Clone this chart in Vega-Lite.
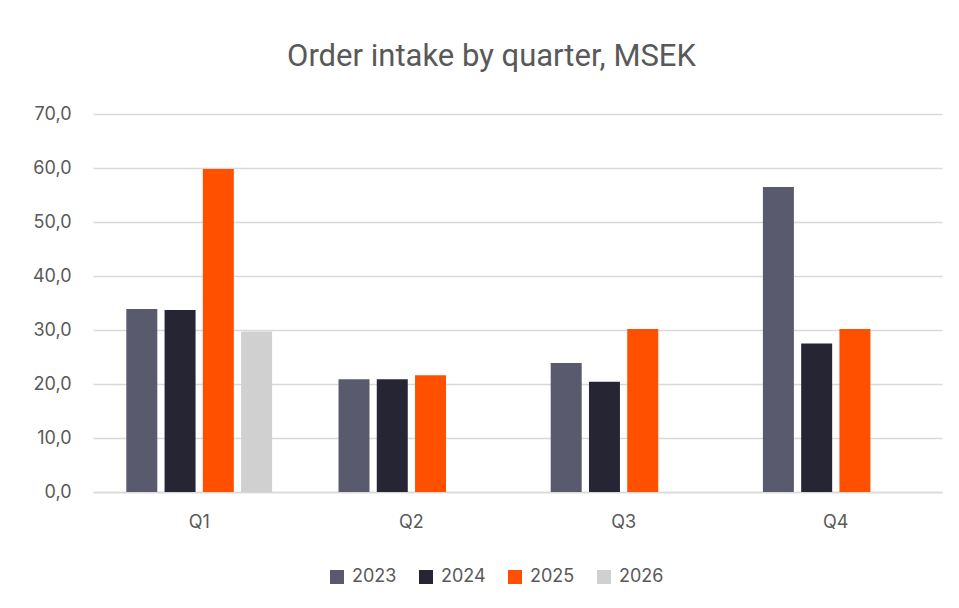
{
  "$schema": "https://vega.github.io/schema/vega-lite/v6.json",
  "autosize": "none",
  "width": 849,
  "height": 378,
  "padding": {"left": 93, "top": 114, "right": 17, "bottom": 116},
  "background": "white",
  "title": {
    "text": "Order intake by quarter, MSEK",
    "font": "Roboto",
    "fontSize": 31,
    "fontWeight": "normal",
    "color": "#595959",
    "anchor": "middle",
    "baseline": "alphabetic",
    "offset": 8,
    "dx": -26
  },
  "data": {
    "values": [
      {"quarter": "Q1", "year": "2023", "value": 33.9},
      {"quarter": "Q1", "year": "2024", "value": 33.7},
      {"quarter": "Q1", "year": "2025", "value": 59.8},
      {"quarter": "Q1", "year": "2026", "value": 29.7},
      {"quarter": "Q2", "year": "2023", "value": 20.9},
      {"quarter": "Q2", "year": "2024", "value": 20.9},
      {"quarter": "Q2", "year": "2025", "value": 21.6},
      {"quarter": "Q3", "year": "2023", "value": 23.9},
      {"quarter": "Q3", "year": "2024", "value": 20.4},
      {"quarter": "Q3", "year": "2025", "value": 30.2},
      {"quarter": "Q4", "year": "2023", "value": 56.5},
      {"quarter": "Q4", "year": "2024", "value": 27.5},
      {"quarter": "Q4", "year": "2025", "value": 30.2}
    ]
  },
  "mark": {"type": "bar"},
  "encoding": {
    "x": {
      "field": "quarter",
      "type": "nominal",
      "scale": {"paddingInner": 0.313, "paddingOuter": 0.157},
      "axis": {
        "title": null,
        "labelAngle": 0,
        "labelFont": "Inter",
        "labelFontSize": 18,
        "labelColor": "#595959",
        "labelPadding": 21,
        "ticks": false,
        "tickSize": 0,
        "domain": true,
        "domainColor": "#d9d9d9",
        "domainWidth": 1.5,
        "grid": false
      }
    },
    "xOffset": {
      "field": "year",
      "type": "nominal",
      "scale": {"domain": ["2023", "2024", "2025", "2026"], "paddingInner": 0.19, "paddingOuter": 0}
    },
    "y": {
      "field": "value",
      "type": "quantitative",
      "scale": {"domain": [0, 70], "nice": false},
      "axis": {
        "title": null,
        "values": [0, 10, 20, 30, 40, 50, 60, 70],
        "labelExpr": "replace(format(datum.value, '.1f'), '.', ',')",
        "labelFont": "Inter",
        "labelFontSize": 18,
        "labelColor": "#595959",
        "labelPadding": 22,
        "ticks": false,
        "tickSize": 0,
        "domain": false,
        "grid": true,
        "gridColor": "#d9d9d9",
        "gridWidth": 1.5
      }
    },
    "color": {
      "field": "year",
      "type": "nominal",
      "scale": {
        "domain": ["2023", "2024", "2025", "2026"],
        "range": ["#5a5a6e", "#262533", "#ff5000", "#d0d0d0"]
      },
      "legend": {
        "title": null,
        "orient": "none",
        "direction": "horizontal",
        "legendX": 235,
        "legendY": 454,
        "symbolType": "square",
        "symbolSize": 196,
        "symbolStrokeWidth": 0,
        "labelFont": "Inter",
        "labelFontSize": 18,
        "labelColor": "#595959",
        "labelOffset": 6,
        "columnPadding": 20
      }
    }
  },
  "config": {
    "view": {"stroke": null}
  }
}
